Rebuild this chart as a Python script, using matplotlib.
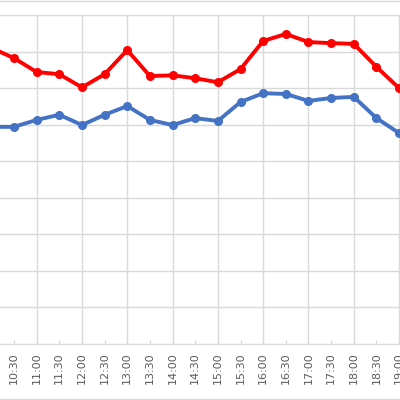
import numpy as np
import matplotlib.pyplot as plt

# Data
times = ['10:00', '10:30', '11:00', '11:30', '12:00', '12:30', '13:00', '13:30', '14:00', '14:30',
         '15:00', '15:30', '16:00', '16:30', '17:00', '17:30', '18:00', '18:30', '19:00']
red = [81.0, 78.2, 74.4, 73.8, 70.2, 73.8, 80.4, 73.3, 73.5, 72.7, 71.6, 75.2, 82.9, 84.8, 82.6, 82.3, 82.1, 75.8, 70.0]
blue = [59.4, 59.4, 61.3, 62.7, 59.9, 62.7, 65.1, 61.3, 59.9, 61.8, 61.0, 66.2, 68.6, 68.4, 66.5, 67.3, 67.6, 61.8, 57.7]

x = np.arange(len(times))

fig = plt.figure(figsize=(4, 4), dpi=100)
ax = fig.add_axes([0, 0.14, 1, 329 / 400])

ax.plot(x, red, color='#ff0000', lw=2.8, marker='o', ms=5.5, zorder=3)
ax.plot(x, blue, color='#4472c4', lw=2.8, marker='o', ms=5.5, zorder=3)

ax.set_yticks(np.arange(0, 91, 10))
ax.set_yticklabels([])
ax.tick_params(axis='y', length=0)
ax.set_xticks(x)
ax.set_xticklabels(times, rotation=90, fontsize=8, color='#595959')
ax.tick_params(axis='x', direction='in', length=3, color='#d9d9d9', pad=6)
for i in x[::2]:
    ax.axvline(i, color='#d9d9d9', lw=1, zorder=1)
ax.grid(axis='y', color='#d9d9d9', lw=1, zorder=1)
ax.set_xlim(0.382, 18.04)
ax.set_ylim(0, 90)
for s in ['left', 'right']:
    ax.spines[s].set_visible(False)
ax.spines['top'].set_color('#d9d9d9')
ax.spines['bottom'].set_color('#d9d9d9')

fig.add_artist(plt.Line2D([0, 1], [0.998, 0.998], color='#d9d9d9', lw=1))
fig.add_artist(plt.Line2D([0, 1], [0.003, 0.003], color='#d9d9d9', lw=1))

fig.savefig('out.png', dpi=100)
